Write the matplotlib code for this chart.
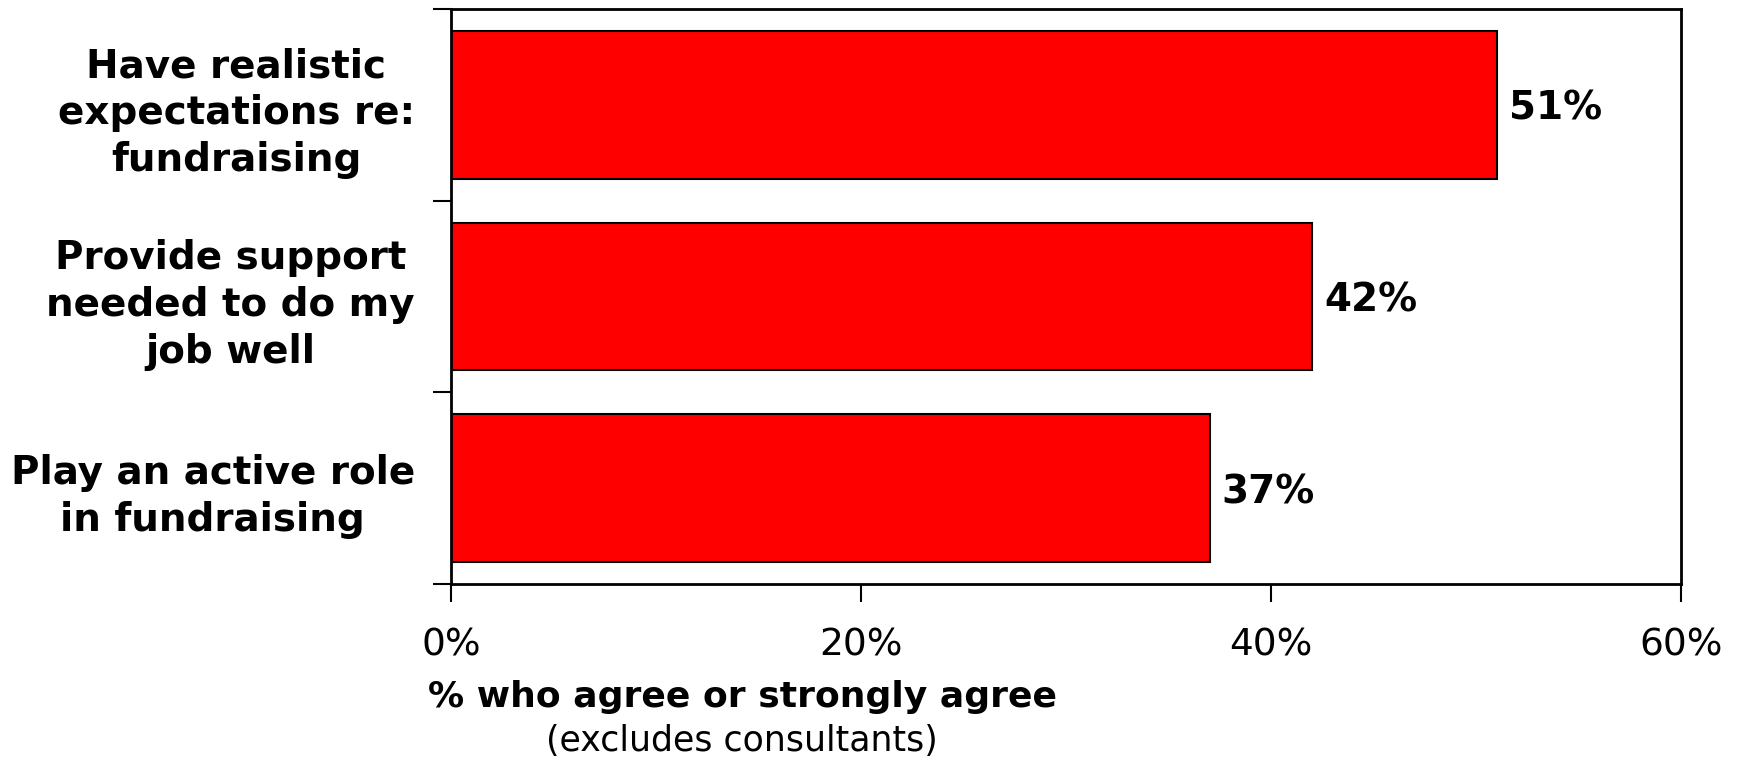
import numpy as np
import matplotlib.pyplot as plt

# 数据
categories = ['Have realistic\nexpectations re:\nfundraising',
              'Provide support\nneeded to do my\njob well',
              'Play an active role\nin fundraising']
values = [51, 42, 37]
ticks = [0, 20, 40, 60]
tick_labels = ['0%', '20%', '40%', '60%']

plt.rcParams['font.family'] = ['DejaVu Sans']

fig = plt.figure(figsize=(17.43, 7.62), dpi=100)
ax = fig.add_axes([451 / 1743, 1 - 584 / 762, (1681 - 451) / 1743, (584 - 9) / 762])

y = np.arange(len(categories))
ax.barh(y, values, height=0.77, color='#ff0000', edgecolor='black', linewidth=1.5)
ax.set_ylim(len(categories) - 0.5, -0.5)
ax.set_xlim(0, 60)

# 数值标签
for yi, v in zip(y, values):
    ax.text(v + 0.6, yi + 0.02, f'{v}%', va='center', ha='left', fontsize=28, fontweight='bold')

ax.set_xticks(ticks)
ax.set_xticklabels(tick_labels, fontsize=27)
ax.set_yticks(np.arange(len(categories) + 1) - 0.5, minor=False)
ax.set_yticklabels([''] * (len(categories) + 1))
ax.set_yticks(y, minor=True)
ax.set_yticklabels(categories, minor=True, fontsize=28, fontweight='bold', ha='right',
                   multialignment='center', linespacing=1.3)
ax.tick_params(axis='y', which='minor', length=0, pad=26)
ax.tick_params(axis='y', which='major', length=13, width=1.5)
ax.tick_params(axis='x', length=13, width=1.5, pad=18)

for s in ax.spines.values():
    s.set_linewidth(2)

# x轴标题
fig.text(742 / 1743, 1 - 697 / 762, '% who agree or strongly agree', ha='center', va='center',
         fontsize=26, fontweight='bold')
fig.text(742 / 1743, 1 - 741 / 762, '(excludes consultants)', ha='center', va='center', fontsize=25)

fig.savefig('out.png', dpi=100)
